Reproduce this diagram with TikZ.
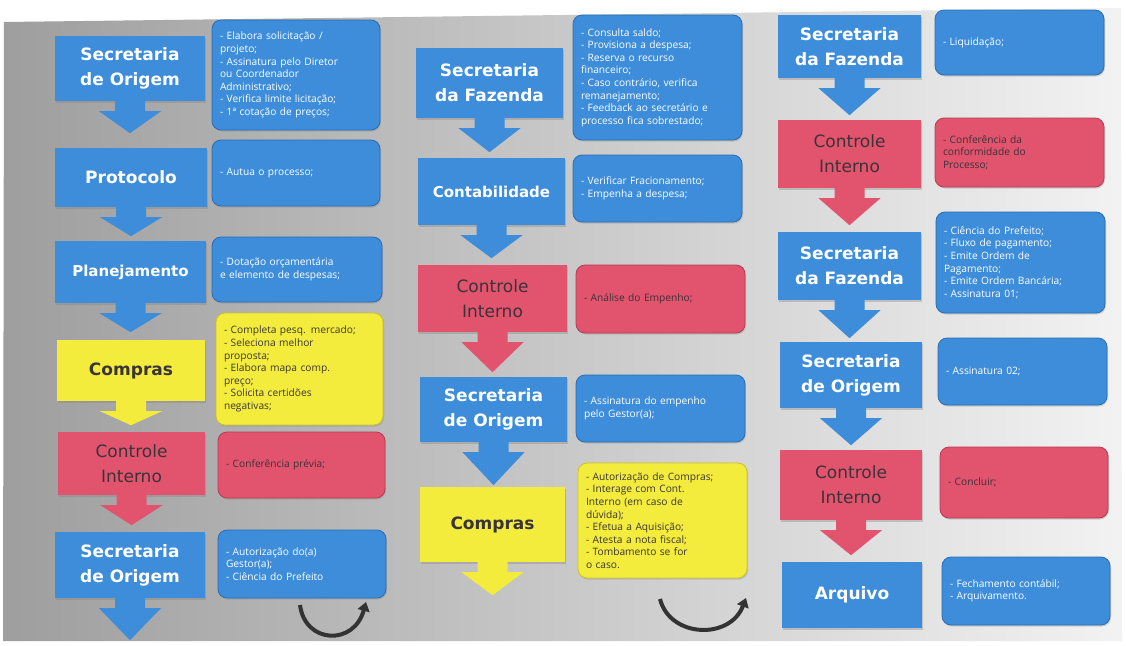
\documentclass[tikz,border=0pt]{standalone}
\usepackage{fontspec}
\setmainfont{Open Sans}
\newfontfamily\headfont{DejaVu Sans}
\usetikzlibrary{shadows,calc,arrows.meta}
\definecolor{bl}{HTML}{3D8DDA}
\definecolor{bldark}{HTML}{2A6CB3}
\definecolor{rd}{HTML}{E2536E}
\definecolor{rddark}{HTML}{B83A52}
\definecolor{yl}{HTML}{F4EC3C}
\definecolor{yldark}{HTML}{C9C030}
\definecolor{darktxt}{HTML}{3A3438}
\tikzset{
  pos/.style n args={4}{at={({(#1+#3)/2},{(#2+#4)/2})}},
  headbox/.style n args={5}{pos={#1}{#2}{#3}{#4}, minimum width={(#3-#1)*1pt},
     minimum height={(#4-#2)*1pt}, fill=#5, inner sep=2pt, align=center,
     drop shadow={shadow xshift=1pt,shadow yshift=-1.5pt,opacity=0.35}},
  hblue/.style={text=white, font=\headfont\bfseries\fontsize{17}{25}\selectfont},
  hdark/.style={text=darktxt, font=\headfont\fontsize{17}{25}\selectfont},
  hdarkb/.style={text=darktxt, font=\headfont\bfseries\fontsize{17}{25}\selectfont},
  tbox/.style n args={6}{pos={#1}{#2}{#3}{#4}, text width={(#3-#1-16)*1pt},
     minimum height={(#4-#2)*1pt}, inner xsep=8pt, inner ysep=2pt, align=left,
     rounded corners=9pt, fill=#5, draw=#6, line width=0.8pt,
     font=\fontsize{10.2}{12.6}\selectfont,
     drop shadow={shadow xshift=1pt,shadow yshift=-1.5pt,opacity=0.3}},
  tblue/.style={text=white},
  tdark/.style={text=darktxt},
  turn/.style={line width=4pt, draw=black!80, -{Triangle[length=9pt,width=12pt]}},
}
\newcommand\downarr[3]{\fill[#2] (#1.south) ++(-15,0) -- ++(0,10) -- ++(-16,0) -- ++(31,#3) -- ++(31,-#3) -- ++(-16,0) -- ++(0,-10) -- cycle;}
\begin{document}
\begin{tikzpicture}[x=1pt,y=-1pt]
\useasboundingbox (0,0) rectangle (1126,645);
\fill[white] (0,0) rectangle (1126,645);
\shade[left color=black!38, middle color=black!20, right color=black!5, shading angle=90]
  (4,22) -- (1121,8) -- (1122,641) -- (3,641) -- cycle;

% ---------- column 1 ----------
\node[headbox={55}{36}{205}{101}{bl}, hblue] (a1) {Secretaria\\de Origem};
\downarr{a1}{bl}{22}
\node[headbox={55}{148}{207}{207}{bl}, hblue] (a2) {Protocolo};
\downarr{a2}{bl}{19}
\node[headbox={55}{241}{206}{303}{bl}, hblue, font=\headfont\bfseries\fontsize{15}{20}\selectfont] (a3) {Planejamento};
\downarr{a3}{bl}{19}
\node[headbox={57}{340}{205}{401}{yl}, hdarkb] (a4) {Compras};
\downarr{a4}{yl}{14}
\node[headbox={58}{432}{205}{495}{rd}, hdark] (a5) {Controle\\Interno};
\downarr{a5}{rd}{20}
\node[headbox={55}{532}{205}{598}{bl}, hblue] (a6) {Secretaria\\de Origem};
\downarr{a6}{bl}{32}

\node[tbox={212}{20}{380}{130}{bl}{bldark}, tblue] (b1) {- Elabora solicitação /\\projeto;\\- Assinatura pelo Diretor\\ou Coordenador\\Administrativo;\\- Verifica limite licitação;\\- 1ª cotação de preços;};
\node[tbox={212}{140}{380}{206}{bl}{bldark}, tblue] (b2) {- Autua o processo;};
\node[tbox={212}{237}{382}{302}{bl}{bldark}, tblue] (b3) {- Dotação orçamentária\\e elemento de despesas;};
\node[tbox={216}{313}{383}{425}{yl}{yldark}, tdark] (b4) {- Completa pesq. mercado;\\- Seleciona melhor\\proposta;\\- Elabora mapa comp.\\preço;\\- Solicita certidões\\negativas;};
\node[tbox={218}{432}{385}{498}{rd}{rddark}, tdark] (b5) {- Conferência prévia;};
\node[tbox={218}{530}{386}{598}{bl}{bldark}, tblue] (b6) {- Autorização do(a)\\Gestor(a);\\- Ciência do Prefeito};

\coordinate (r1s) at (300,605);
\coordinate (r1e) at (366,602);
\draw[turn] (r1s) .. controls (305,644) and (354,646) .. (r1e);

% ---------- column 2 ----------
\node[headbox={416}{48}{563}{118}{bl}, hblue] (c1) {Secretaria\\da Fazenda};
\downarr{c1}{bl}{24}
\node[headbox={418}{158}{565}{225}{bl}, hblue, font=\headfont\bfseries\fontsize{15}{20}\selectfont] (c2) {Contabilidade};
\downarr{c2}{bl}{23}
\node[headbox={418}{265}{567}{332}{rd}, hdark] (c3) {Controle\\Interno};
\downarr{c3}{rd}{30}
\node[headbox={420}{377}{567}{442}{bl}, hblue] (c4) {Secretaria\\de Origem};
\downarr{c4}{bl}{33}
\node[headbox={420}{487}{565}{562}{yl}, hdarkb] (c5) {Compras};
\downarr{c5}{yl}{23}

\node[tbox={573}{15}{742}{140}{bl}{bldark}, tblue] (d1) {- Consulta saldo;\\- Provisiona a despesa;\\- Reserva o recurso\\financeiro;\\- Caso contrário, verifica\\remanejamento;\\- Feedback ao secretário e\\processo fica sobrestado;};
\node[tbox={573}{155}{742}{222}{bl}{bldark}, tblue] (d2) {- Verificar Fracionamento;\\- Empenha a despesa;};
\node[tbox={576}{265}{745}{333}{rd}{rddark}, tdark] (d3) {- Análise do Empenho;};
\node[tbox={576}{375}{745}{442}{bl}{bldark}, tblue] (d4) {- Assinatura do empenho\\pelo Gestor(a);};
\node[tbox={578}{463}{747}{578}{yl}{yldark}, tdark] (d5) {- Autorização de Compras;\\- Interage com Cont.\\Interno (em caso de\\dúvida);\\- Efetua a Aquisição;\\- Atesta a nota fiscal;\\- Tombamento se for\\o caso.};

\coordinate (r2s) at (660,599);
\coordinate (r2e) at (746,598);
\draw[turn] (r2s) .. controls (670,638) and (730,640) .. (r2e);

% ---------- column 3 ----------
\node[headbox={778}{15}{921}{78}{bl}, hblue] (e1) {Secretaria\\da Fazenda};
\downarr{e1}{bl}{27}
\node[headbox={778}{120}{921}{188}{rd}, hdark] (e2) {Controle\\Interno};
\downarr{e2}{rd}{27}
\node[headbox={778}{232}{921}{300}{bl}, hblue] (e3) {Secretaria\\da Fazenda};
\downarr{e3}{bl}{28}
\node[headbox={780}{342}{922}{408}{bl}, hblue] (e4) {Secretaria\\de Origem};
\downarr{e4}{bl}{27}
\node[headbox={780}{450}{922}{520}{rd}, hdark] (e5) {Controle\\Interno};
\downarr{e5}{rd}{25}
\node[headbox={782}{562}{922}{628}{bl}, hblue] (e6) {Arquivo};

\node[tbox={935}{10}{1104}{75}{bl}{bldark}, tblue] (f1) {- Liquidação;};
\node[tbox={935}{118}{1104}{187}{rd}{rddark}, tdark] (f2) {- Conferência da\\conformidade do\\Processo;};
\node[tbox={936}{212}{1105}{313}{bl}{bldark}, tblue] (f3) {- Ciência do Prefeito;\\- Fluxo de pagamento;\\- Emite Ordem de\\Pagamento;\\- Emite Ordem Bancária;\\- Assinatura 01;};
\node[tbox={938}{338}{1107}{405}{bl}{bldark}, tblue] (f4) {- Assinatura 02;};
\node[tbox={940}{447}{1108}{518}{rd}{rddark}, tdark] (f5) {- Concluir;};
\node[tbox={942}{557}{1110}{625}{bl}{bldark}, tblue] (f6) {- Fechamento contábil;\\- Arquivamento.};
\end{tikzpicture}
\end{document}
